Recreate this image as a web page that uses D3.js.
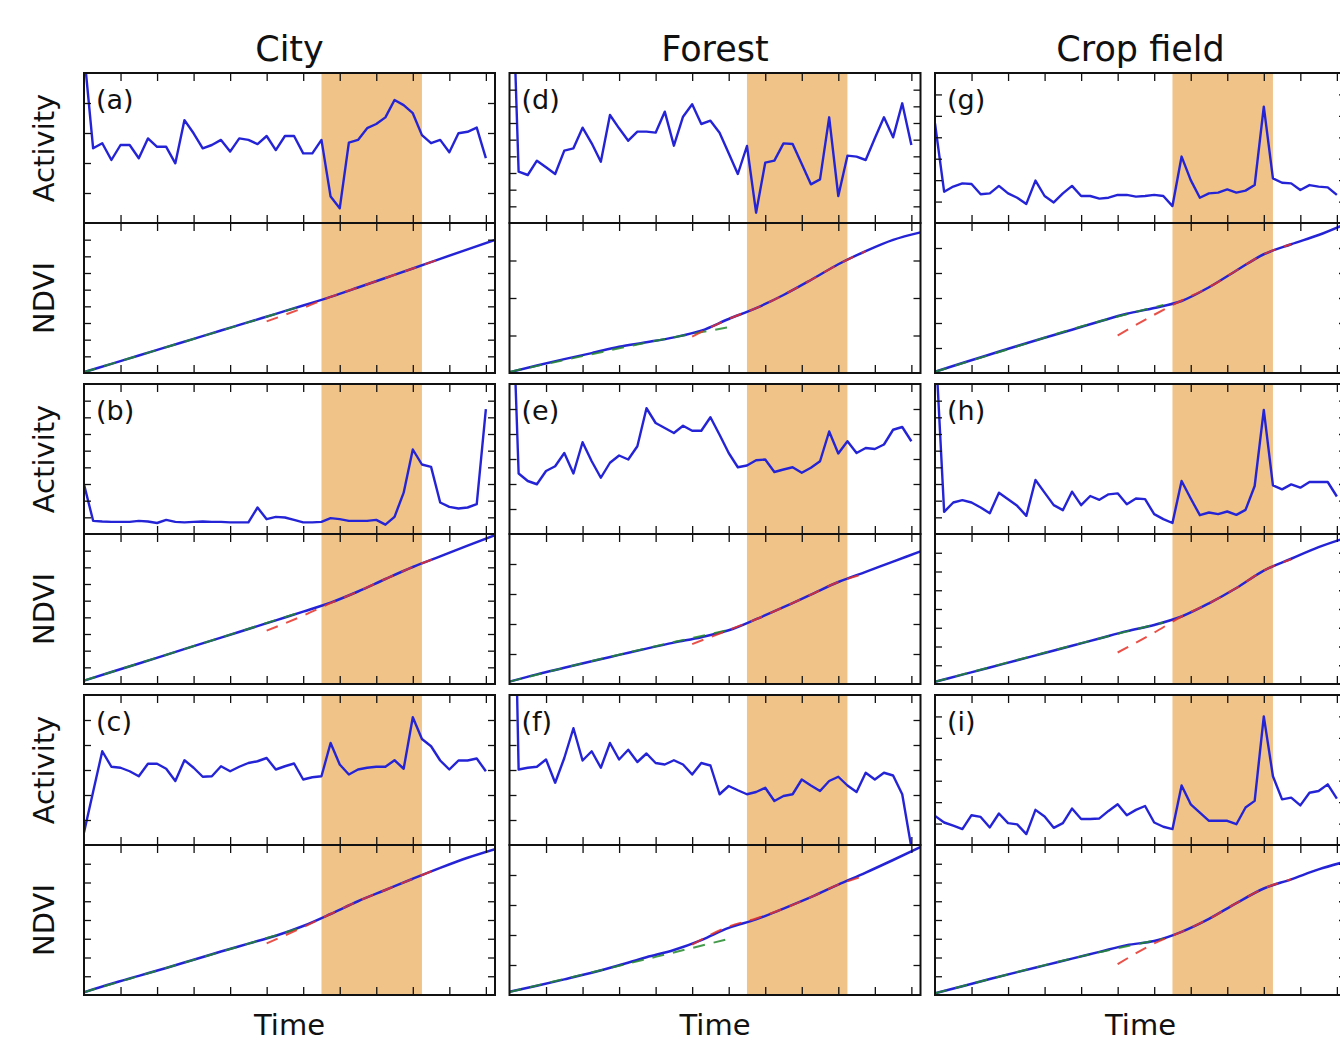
<!DOCTYPE html>
<html><head><meta charset="utf-8">
<script src="https://cdn.jsdelivr.net/npm/d3@7"></script>
<style>
body{margin:0;background:#fff;}
svg{display:block;font-family:"DejaVu Sans",sans-serif;}
</style>
</head><body>
<svg id="chart" width="1340" height="1044"></svg>
<script>
// ---------------- DATA ----------------
const columns = ["City", "Forest", "Crop field"];
const panelLetters = [["a","b","c"],["d","e","f"],["g","h","i"]];
const xTickValues = [4, 8, 12, 16, 20, 24, 28, 32, 36, 40, 44];
const eventSpan = [26, 37];

// Activity series: one value per time step (0..44), units = y-tick intervals
const actA = [5.7,2.49,2.66,2.1,2.6,2.6,2.16,2.82,2.54,2.54,1.99,3.43,2.99,2.49,2.6,2.77,2.38,2.82,2.77,2.63,2.9,2.43,2.9,2.9,2.32,2.32,2.77,0.88,0.49,2.68,2.77,3.16,3.3,3.52,4.1,3.93,3.66,2.93,2.66,2.77,2.36,2.99,3.04,3.18,2.16];
const actB = [2.98,0.79,0.75,0.73,0.73,0.73,0.79,0.75,0.66,0.85,0.73,0.70,0.73,0.75,0.73,0.73,0.70,0.70,0.70,1.59,0.89,1.03,0.99,0.85,0.70,0.70,0.73,0.95,0.89,0.79,0.79,0.79,0.85,0.56,1.03,2.48,5.07,4.17,4.03,1.89,1.63,1.53,1.59,1.79,7.49];
const actC = [0.5,2.13,3.75,3.13,3.09,2.95,2.75,3.25,3.25,3.05,2.56,3.39,3.09,2.73,2.75,3.15,2.95,3.13,3.28,3.35,3.48,3.02,3.15,3.26,2.62,2.71,2.75,4.08,3.22,2.82,3.02,3.09,3.13,3.13,3.39,3.05,5.11,4.24,3.95,3.38,3.02,3.38,3.38,3.46,2.95];
const actD = [20,3.08,2.88,3.74,3.34,2.94,4.34,4.48,5.72,4.78,3.68,6.48,5.68,4.94,5.48,5.48,5.42,6.68,4.64,6.38,7.12,5.94,6.14,5.42,4.18,2.94,4.62,0.62,3.62,3.74,4.78,4.74,3.54,2.32,2.62,6.34,1.62,4.04,3.98,3.78,5.08,6.34,5.14,7.18,4.68];
const actE = [13,2.42,2.12,1.99,2.52,2.71,3.24,2.42,3.67,2.91,2.25,2.85,3.14,2.98,3.51,5.03,4.44,4.24,4.04,4.33,4.13,4.13,4.67,3.97,3.24,2.67,2.74,2.95,2.98,2.48,2.58,2.67,2.45,2.65,2.91,4.1,3.22,3.71,3.24,3.44,3.4,3.58,4.17,4.28,3.71];
const actF = [21,3.02,3.09,3.13,3.42,2.49,3.48,4.67,3.38,3.75,3.09,4.08,3.42,3.81,3.32,3.66,3.28,3.22,3.39,3.22,2.82,3.28,3.18,2.03,2.36,2.19,2.03,2.12,2.29,1.76,1.96,2.03,2.62,2.38,2.16,2.56,2.73,2.38,2.12,2.89,2.62,2.89,2.78,2.03,-0.1];
const actG = [4.65,1.46,1.70,1.85,1.82,1.34,1.38,1.73,1.38,1.18,0.89,1.98,1.26,0.96,1.38,1.73,1.26,1.26,1.14,1.18,1.31,1.31,1.23,1.26,1.31,1.26,0.79,3.1,2.0,1.18,1.38,1.42,1.57,1.42,1.51,1.77,5.43,2.08,1.88,1.85,1.54,1.77,1.70,1.66,1.31];
const actH = [12,1.33,1.89,2.03,1.89,1.59,1.25,2.48,2.09,1.69,1.09,3.24,2.48,1.73,1.43,2.54,1.73,2.28,2.05,2.38,2.44,1.79,2.13,2.09,1.19,0.89,0.66,3.18,2.13,1.13,1.29,1.19,1.35,1.15,1.45,2.88,7.45,2.92,2.68,2.98,2.78,3.12,3.12,3.12,2.25];
const actI = [1.36,1.05,0.9,0.74,1.39,1.31,0.82,1.47,1.02,0.96,0.51,1.64,1.33,0.8,1.02,1.7,1.21,1.21,1.24,1.59,1.9,1.39,1.64,1.82,1.05,0.85,0.74,2.78,1.9,1.51,1.13,1.13,1.13,0.97,1.75,2.06,6.0,3.21,2.13,2.21,1.85,2.44,2.52,2.83,2.16];

// NDVI series sampled at these time steps
const ndviX = [0,3,6,9,12,15,18,21,24,27,30,33,36,39,42,45];
const ndviA = [0.05,0.55,1.05,1.55,2.05,2.55,3.05,3.55,4.05,4.57,5.13,5.7,6.27,6.85,7.42,7.98];
const ndviB = [0.2,0.72,1.23,1.75,2.27,2.78,3.3,3.82,4.34,4.88,5.55,6.3,7.02,7.66,8.3,8.93];
const ndviC = [0.15,0.6,1.02,1.44,1.88,2.32,2.74,3.16,3.68,4.32,5.0,5.6,6.2,6.78,7.32,7.78];
const ndviD = [0.02,0.2,0.37,0.53,0.7,0.82,0.95,1.13,1.44,1.73,2.08,2.48,2.9,3.25,3.55,3.75];
const ndviE = [0.08,0.32,0.54,0.76,0.97,1.18,1.38,1.56,1.79,2.16,2.56,2.98,3.4,3.74,4.08,4.42];
const ndviF = [0.11,0.31,0.52,0.74,0.99,1.26,1.5,1.83,2.24,2.52,2.88,3.26,3.68,4.08,4.5,4.93];
const ndviG = [0.05,0.4,0.74,1.08,1.41,1.73,2.06,2.37,2.6,2.88,3.43,4.1,4.75,5.15,5.52,5.97];
const ndviH = [0.12,0.5,0.88,1.27,1.65,2.04,2.43,2.82,3.15,3.6,4.3,5.12,6.05,6.68,7.3,7.8];
const ndviI = [0.09,0.47,0.85,1.22,1.58,1.94,2.3,2.66,2.88,3.37,4.06,4.9,5.68,6.17,6.7,7.12];

// Early-period fit (green dashed)
const greenX = [0, 8, 16, 24];
const greenXCrop = [0, 8, 16, 25];
const greenA = [0.05,1.38,2.71,4.05];
const greenB = [0.2,1.58,2.96,4.36];
const greenC = [0.15,1.3,2.45,3.62];
const greenD = [0.03,0.45,0.86,1.22];
const greenE = [0.08,0.69,1.26,1.8];
const greenF = [0.1,0.68,1.27,1.87];
const greenG = [0.05,0.95,1.86,2.72];
const greenH = [0.12,1.15,2.18,3.28];
const greenI = [0.09,1.1,2.06,3.0];

// Late-period fit (red dashed)
const redX = [20, 24, 27, 30, 33, 36, 39];
const redA = [3.1,3.9,4.57,5.13,5.7,6.27,6.85];
const redB = [3.2,4.1,4.85,5.55,6.3,7.02,7.66];
const redC = [2.75,3.62,4.32,5.0,5.6,6.2,6.78];
const redD = [0.97,1.44,1.73,2.08,2.48,2.9,3.25];
const redE = [1.33,1.8,2.16,2.56,2.98,3.4,3.68];
const redF = [1.68,2.28,2.55,2.88,3.26,3.68,3.98];
const redG = [1.5,2.33,2.9,3.43,4.1,4.75,5.15];
const redH = [1.68,2.74,3.6,4.3,5.12,6.05,6.65];
const redI = [1.64,2.75,3.37,4.06,4.9,5.68,6.17];

// number of y-tick intervals per panel [activity, ndvi]
const yIntervalsCity   = [[5,9],[9,9],[6,8]];
const yIntervalsForest = [[9,4],[6,5],[6,5]];
const yIntervalsCrop   = [[7,6],[9,8],[7,8]];

// ---------------- BUILD ----------------
const panels = [
  [{act:actA, ndvi:ndviA, gx:greenX, green:greenA, red:redA, yi:yIntervalsCity[0]},
   {act:actB, ndvi:ndviB, gx:greenX, green:greenB, red:redB, yi:yIntervalsCity[1]},
   {act:actC, ndvi:ndviC, gx:greenX, green:greenC, red:redC, yi:yIntervalsCity[2]}],
  [{act:actD, ndvi:ndviD, gx:greenX, green:greenD, red:redD, yi:yIntervalsForest[0]},
   {act:actE, ndvi:ndviE, gx:greenX, green:greenE, red:redE, yi:yIntervalsForest[1]},
   {act:actF, ndvi:ndviF, gx:greenX, green:greenF, red:redF, yi:yIntervalsForest[2]}],
  [{act:actG, ndvi:ndviG, gx:greenXCrop, green:greenG, red:redG, yi:yIntervalsCrop[0]},
   {act:actH, ndvi:ndviH, gx:greenXCrop, green:greenH, red:redH, yi:yIntervalsCrop[1]},
   {act:actI, ndvi:ndviI, gx:greenXCrop, green:greenI, red:redI, yi:yIntervalsCrop[2]}]
];

const svg = d3.select("#chart");
const colLeft = [84, 509.5, 935], colW = 411;
const rowTop = [73, 384, 695], subH = 150;
const BLUE = "#2424d6", ORANGE = "#f0c488";
let clipId = 0;

function drawSub(g, x0, y0, data, xs, nInt, kind, p) {
  const ys = d3.scaleLinear().domain([0, nInt]).range([y0 + subH, y0]);
  const id = "clip" + (clipId++);
  svg.append("clipPath").attr("id", id).append("rect")
    .attr("x", x0).attr("y", y0).attr("width", colW).attr("height", subH);
  const cg = g.append("g").attr("clip-path", `url(#${id})`);
  cg.append("rect").attr("x", xs(eventSpan[0])).attr("y", y0)
    .attr("width", xs(eventSpan[1]) - xs(eventSpan[0])).attr("height", subH)
    .attr("fill", ORANGE);
  if (kind === "act") {
    const line = d3.line().x((d, i) => xs(i)).y(d => ys(d));
    cg.append("path").attr("d", line(data)).attr("fill", "none")
      .attr("stroke", BLUE).attr("stroke-width", 2.4).attr("stroke-linejoin", "round");
  } else {
    const line = d3.line().x(d => xs(d[0])).y(d => ys(d[1])).curve(d3.curveMonotoneX);
    cg.append("path").attr("d", line(ndviX.map((x, i) => [x, p.ndvi[i]])))
      .attr("fill", "none").attr("stroke", BLUE).attr("stroke-width", 2.5);
    cg.append("path").attr("d", line(p.gx.map((x, i) => [x, p.green[i]])))
      .attr("fill", "none").attr("stroke", "#238a2c").attr("stroke-width", 2)
      .attr("stroke-dasharray", "12,9").attr("opacity", 0.85);
    cg.append("path").attr("d", line(redX.map((x, i) => [x, p.red[i]])))
      .attr("fill", "none").attr("stroke", "#e53228").attr("stroke-width", 2)
      .attr("stroke-dasharray", "12,9").attr("opacity", 0.85);
  }
  // ticks via d3 axes (inward)
  const yTicks = d3.range(1, nInt);
  const blank = () => "";
  const axes = [
    g.append("g").attr("transform", `translate(0,${y0})`)
      .call(d3.axisBottom(xs).tickValues(xTickValues).tickSizeInner(8).tickSizeOuter(0).tickFormat(blank)),
    g.append("g").attr("transform", `translate(0,${y0 + subH})`)
      .call(d3.axisTop(xs).tickValues(xTickValues).tickSizeInner(8).tickSizeOuter(0).tickFormat(blank)),
    g.append("g").attr("transform", `translate(${x0},0)`)
      .call(d3.axisRight(ys).tickValues(yTicks).tickSizeInner(7).tickSizeOuter(0).tickFormat(blank)),
    g.append("g").attr("transform", `translate(${x0 + colW},0)`)
      .call(d3.axisLeft(ys).tickValues(yTicks).tickSizeInner(7).tickSizeOuter(0).tickFormat(blank))
  ];
  axes.forEach(a => {
    a.select(".domain").remove();
    a.selectAll(".tick line").attr("stroke", "#111").attr("stroke-width", 1.3);
  });
  g.append("rect").attr("x", x0).attr("y", y0).attr("width", colW).attr("height", subH)
    .attr("fill", "none").attr("stroke", "#111").attr("stroke-width", 2);
}

columns.forEach((name, c) => {
  const x0 = colLeft[c];
  const xs = d3.scaleLinear().domain([0, 45]).range([x0, x0 + colW]);
  svg.append("text").attr("x", x0 + colW / 2).attr("y", 61)
    .attr("text-anchor", "middle").attr("font-size", 35).attr("fill", "#111").text(name);
  svg.append("text").attr("x", x0 + colW / 2).attr("y", 1035)
    .attr("text-anchor", "middle").attr("font-size", 29).attr("fill", "#111").text("Time");
  panels[c].forEach((p, r) => {
    const g = svg.append("g");
    const yA = rowTop[r], yN = rowTop[r] + subH;
    drawSub(g, x0, yA, p.act, xs, p.yi[0], "act", p);
    drawSub(g, x0, yN, null, xs, p.yi[1], "ndvi", p);
    g.append("text").attr("x", x0 + 12).attr("y", yA + 36)
      .attr("font-size", 27).attr("fill", "#111").text(`(${panelLetters[c][r]})`);
  });
});

rowTop.forEach(t => {
  svg.append("text").attr("transform", `translate(54,${t + subH / 2}) rotate(-90)`)
    .attr("text-anchor", "middle").attr("font-size", 29).attr("fill", "#111").text("Activity");
  svg.append("text").attr("transform", `translate(54,${t + subH * 1.5}) rotate(-90)`)
    .attr("text-anchor", "middle").attr("font-size", 29).attr("fill", "#111").text("NDVI");
});
</script>
</body></html>
